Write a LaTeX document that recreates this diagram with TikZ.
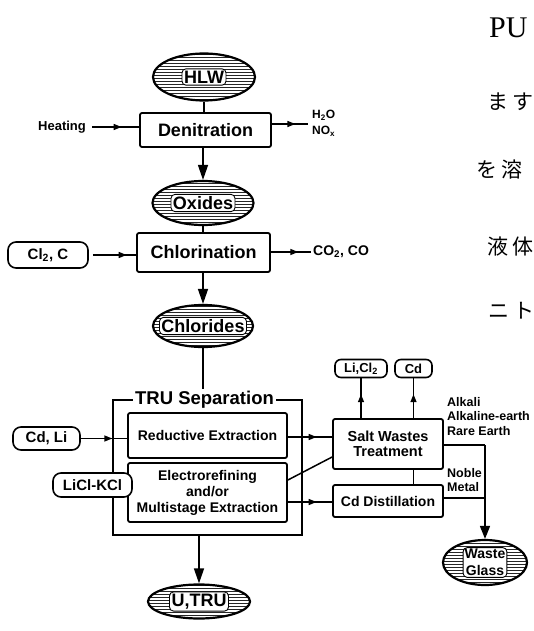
\documentclass[tikz,border=0pt]{standalone}
\usepackage{fontspec}
\setmainfont{Liberation Sans}
\newfontfamily\jpfont{Noto Sans CJK JP}
\newfontfamily\serfont{Liberation Serif}
\usetikzlibrary{shapes.geometric,arrows.meta,decorations.markings,patterns}
\newcommand{\fsz}[2]{\bfseries\fontsize{#1}{#2}\selectfont}
\tikzset{
 box/.style={draw,line width=1.8pt,rounded corners=2pt,inner sep=0pt,align=center},
 ell/.style={ellipse,draw,line width=2.2pt,pattern=horizontal lines,pattern color=black!85,inner sep=0pt},
 elltext/.style={fill=white,draw,line width=0.9pt,rounded corners=4pt,inner sep=2pt,font=\fsz{18}{20}},
 pill/.style={draw,line width=1.6pt,rounded corners=8pt,fill=white,inner sep=0pt},
 ln/.style={line width=1.5pt},
 endarrow/.style={ln,-{Triangle[length=15pt,width=10pt]}},
 midarrow/.style={ln,postaction={decorate},decoration={markings,mark=at position #1 with {\arrow{Triangle[length=8pt,width=6pt]}}}},
 lbl/.style={inner sep=0pt,align=left},
 jp/.style={inner sep=0pt,anchor=west,font=\jpfont\fontsize{21}{22}\selectfont},
}
\begin{document}
\begin{tikzpicture}[x=1pt,y=-1pt]
\useasboundingbox (0,0) rectangle (534,631);

% Japanese page text at the right edge
\node[jp,font=\serfont\fontsize{30}{32}\selectfont] (jp1) at (489,28) {PU};
\node[jp] (jp2) at (487,102) {ま\hspace{4pt}す};
\node[jp] (jp3) at (476,170) {を\hspace{4pt}溶};
\node[jp] (jp4) at (487,247) {液\hspace{4pt}体};
\node[jp] (jp5) at (488,311) {ニ\hspace{4pt}ト};

% HLW and denitration
\node[ell,minimum width=102pt,minimum height=47pt] (hlw) at (204,77) {};
\node[elltext] (hlwt) at (hlw) {HLW};
\node[box,minimum width=131pt,minimum height=34pt,font=\fsz{18}{20}] (deni) at (205.5,130) {Denitration};
\node[lbl,font=\fsz{13}{15}] (heat) at (62,127) {Heating};
\node[lbl,anchor=north west,font=\fsz{12}{16}] (h2o) at (312,110) {H\textsubscript{2}O\\NO\textsubscript{x}};
\coordinate (h2oend) at (308,124);

% Oxides and chlorination
\node[ell,minimum width=101pt,minimum height=44pt] (oxi) at (203,203) {};
\node[elltext] (oxit) at (oxi) {Oxides};
\node[box,minimum width=133pt,minimum height=39pt,font=\fsz{18}{20}] (chl) at (203.5,252.5) {Chlorination};
\node[pill,minimum width=80pt,minimum height=26pt,font=\fsz{15}{17}] (clc) at (48,255) {Cl\textsubscript{2}, C};
\node[lbl,anchor=west,font=\fsz{14}{16}] (co2) at (313,252) {CO\textsubscript{2}, CO};

% Chlorides
\node[ell,minimum width=100pt,minimum height=42pt] (clr) at (203,326) {};
\node[elltext] (clrt) at (clr) {Chlorides};

% TRU separation
\node[draw,line width=1.8pt,minimum width=189pt,minimum height=135pt,inner sep=0pt] (tru) at (207.5,467.5) {};
\node[fill=white,inner sep=2pt,font=\fsz{18.5}{20}] (trut) at (204.5,400) {TRU Separation};
\node[box,minimum width=159pt,minimum height=45pt,font=\fsz{14}{16}] (red) at (207.5,435.5) {Reductive Extraction};
\node[box,minimum width=159pt,minimum height=59pt,font=\fsz{14}{16}] (ele) at (207.5,492.5) {Electrorefining\\and/or\\Multistage Extraction};
\node[pill,minimum width=67pt,minimum height=23pt,font=\fsz{15}{17}] (cdli) at (46.5,438.5) {Cd, Li};
\node[pill,minimum width=79pt,minimum height=24pt,font=\fsz{15}{17}] (licl) at (92.5,485) {LiCl-KCl};

% Salt wastes / Cd distillation
\node[box,minimum width=110pt,minimum height=50pt,font=\fsz{14.5}{15}] (salt) at (388,444) {Salt Wastes\\Treatment};
\node[box,minimum width=110pt,minimum height=32pt,font=\fsz{14}{16}] (cdd) at (388,501) {Cd Distillation};
\node[pill,minimum width=52pt,minimum height=18pt,rounded corners=6pt,font=\fsz{13}{15}] (licl2) at (361,368.5) {Li,Cl\textsubscript{2}};
\node[pill,minimum width=37pt,minimum height=18pt,rounded corners=6pt,font=\fsz{13}{15}] (cdo) at (413.5,368.5) {Cd};
\node[lbl,anchor=north west,font=\fsz{12.5}{14.5}] (alk) at (447,397) {Alkali\\Alkaline-earth\\Rare Earth};
\node[lbl,anchor=north west,font=\fsz{12.5}{14.5}] (nob) at (447,468) {Noble\\Metal};
\coordinate (jn) at (485,445);

% Outputs
\node[ell,minimum width=84pt,minimum height=45pt] (wg) at (485,562.5) {};
\node[elltext,font=\fsz{14}{17},align=center,inner sep=1.5pt] (wgt) at (wg) {Waste\\Glass};
\node[ell,minimum width=102pt,minimum height=34pt] (utru) at (199,601.5) {};
\node[elltext] (utrut) at (utru) {U,TRU};

% Connectors
\draw[ln] (hlw.south) -- (hlw.south |- deni.north);
\draw[midarrow=0.67,shorten <=6pt] (heat.east) -- (heat.east -| deni.west);
\draw[midarrow=0.65] (deni.east |- h2oend) -- (h2oend);
\draw[endarrow] (oxi.north |- deni.south) -- (oxi.north);
\draw[ln] (oxi.south) -- (oxi.south |- chl.north);
\draw[midarrow=0.8,shorten <=4pt] (clc.east) -- (clc.east -| chl.west);
\draw[midarrow=0.65,shorten >=2pt] (chl.east |- co2.west) -- (co2.west);
\draw[endarrow] (clr.north |- chl.south) -- (clr.north);
\draw[ln] (clr.south) -- (clr.south |- trut.north);
\draw[midarrow=0.68] (cdli.east) -- (cdli.east -| red.west);
\draw[midarrow=0.65] (red.east |- 0,437) -- (salt.west |- 0,437);
\draw[ln] (ele.east |- 0,480) -- (salt.west |- 0,457);
\draw[midarrow=0.65] (ele.east |- 0,502) -- (cdd.west |- 0,502);
\draw[midarrow=0.6] (licl2.south |- salt.north) -- (licl2.south);
\draw[midarrow=0.6] (cdo.south |- salt.north) -- (cdo.south);
\draw[ln] (cdo.south |- salt.south) -- (cdo.south |- cdd.north);
\draw[ln] (salt.east |- jn) -- (jn);
\draw[ln] (cdd.east |- 0,498) -- (jn |- 0,498);
\draw[ln,-{Triangle[length=13pt,width=10pt]}] (jn) -- (wg.north);
\draw[endarrow] (utru.north |- tru.south) -- (utru.north);
\end{tikzpicture}
\end{document}
